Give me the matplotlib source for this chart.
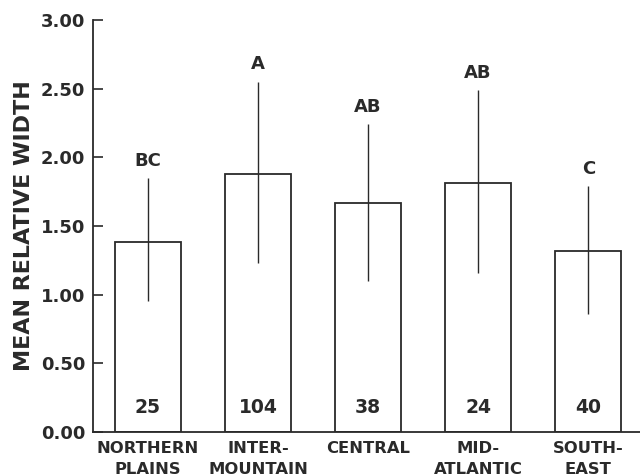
import numpy as np
import matplotlib.pyplot as plt

plt.rcParams['font.family'] = ['DejaVu Sans']
plt.rcParams['font.weight'] = 'bold'

regions = ['NORTHERN\nPLAINS', 'INTER-\nMOUNTAIN', 'CENTRAL', 'MID-\nATLANTIC', 'SOUTH-\nEAST']
means = [1.38, 1.88, 1.67, 1.81, 1.32]
err_low = [0.43, 0.65, 0.57, 0.65, 0.46]
err_high = [0.47, 0.67, 0.57, 0.68, 0.47]
groups = ['BC', 'A', 'AB', 'AB', 'C']
counts = ['25', '104', '38', '24', '40']

ink = '#2a2a2a'

fig = plt.figure(figsize=(6.4, 4.76), dpi=100)
ax = fig.add_axes([0.145, 0.0924, 0.855, 0.866])

x = np.arange(len(regions))
ax.bar(x, means, width=0.6, color='white', edgecolor=ink, linewidth=1.3)
ax.errorbar(x, means, yerr=[err_low, err_high], fmt='none', ecolor=ink,
            elinewidth=1.0, capsize=0)

for i in range(len(x)):
    ax.text(x[i], means[i] + err_high[i] + 0.06, groups[i], ha='center', va='bottom',
            fontsize=13, fontweight='bold', color=ink)
    ax.text(x[i], 0.175, counts[i], ha='center', va='center',
            fontsize=13.5, fontweight='bold', color=ink)

ax.set_xlim(-0.5, 4.47)
ax.set_ylim(0, 3)
ax.set_yticks([0, 0.5, 1.0, 1.5, 2.0, 2.5, 3.0])
ax.set_yticklabels(['%.2f' % v for v in ax.get_yticks()])
ax.set_xticks(x)
ax.set_xticklabels(regions, linespacing=1.5)

for s in ['top', 'right']:
    ax.spines[s].set_visible(False)
for s in ['left', 'bottom']:
    ax.spines[s].set_color(ink)
    ax.spines[s].set_linewidth(1.3)

ax.tick_params(axis='y', direction='in', length=7, width=1.2, color=ink,
               labelsize=13, labelcolor=ink, pad=5.5)
ax.tick_params(axis='x', length=0, labelsize=11.8, labelcolor=ink, pad=6.5)

ax.set_ylabel('MEAN RELATIVE WIDTH', fontsize=16, fontweight='bold', color=ink, labelpad=5)

fig.savefig('out.png', dpi=100)
